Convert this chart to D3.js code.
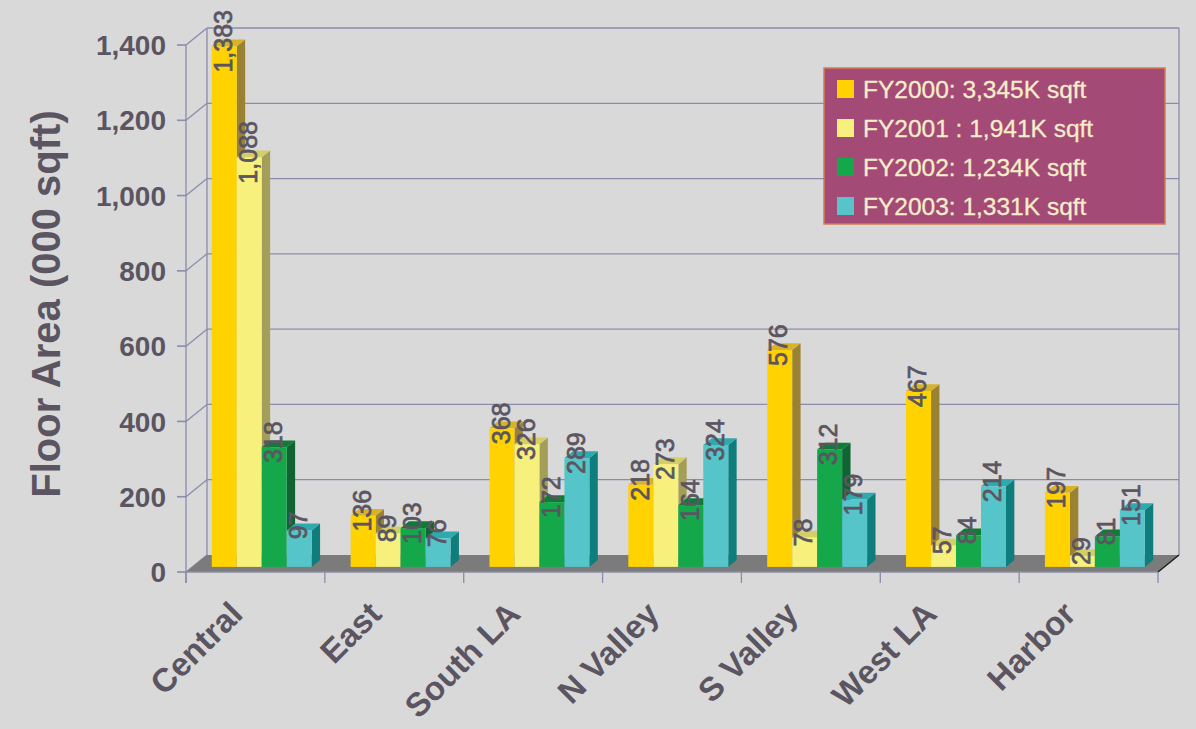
<!DOCTYPE html>
<html>
<head>
<meta charset="utf-8">
<script src="https://cdn.jsdelivr.net/npm/d3@7"></script>
<style>
  html, body { margin: 0; padding: 0; background: #d9d9d9; }
  svg { display: block; }
  text { font-family: "Liberation Sans", Arial, Helvetica, sans-serif; }
</style>
</head>
<body>
<svg id="chart" width="1196" height="729"></svg>
<script>
// Floor area by region, fiscal years 2000-2003 (thousand sq ft)
const categories = ["Central", "East", "South LA", "N Valley", "S Valley", "West LA", "Harbor"];
const seriesNames = ["FY2000", "FY2001", "FY2002", "FY2003"];
const legendLabels = ["FY2000: 3,345K sqft", "FY2001 : 1,941K sqft", "FY2002: 1,234K sqft", "FY2003: 1,331K sqft"];
const fy2000 = [1383, 136, 368, 218, 576, 467, 197];
const fy2001 = [1088, 89, 326, 273, 78, 57, 29];
const fy2002 = [318, 103, 172, 164, 312, 84, 81];
const fy2003 = [97, 76, 289, 324, 179, 214, 151];
const yTicks = [0, 200, 400, 600, 800, 1000, 1200, 1400];
const yTitle = "Floor Area (000 sqft)";

const seriesValues = [fy2000, fy2001, fy2002, fy2003];

// face colours per series: front, top, side
const palette = [
  { front: "#ffd200", top: "#d8b228", side: "#9b8232" },
  { front: "#f7f07c", top: "#d4ce68", side: "#a39e58" },
  { front: "#14a84a", top: "#0e7c37", side: "#0f6431" },
  { front: "#55c5ca", top: "#2ea9ad", side: "#107d7d" }
];

const svg = d3.select("#chart");
const W = 1196, H = 729;
svg.append("rect").attr("width", W).attr("height", H).attr("fill", "#d9d9d9");

// front plane geometry
const x0 = 186, x1 = 1158;
const y = d3.scaleLinear().domain([0, 1400]).range([572, 45]);
const DX = 21, DY = -17;           // depth vector of the plot box
const fFront = 0.3, fBack = 0.7;   // bar depth within the box

const xCat = d3.scaleBand().domain(categories).range([x0, x1]).padding(0);
const xSer = d3.scaleBand().domain(seriesNames).range([0, xCat.bandwidth()])
  .paddingInner(0).paddingOuter(0.78);

const gridColor = "#8b8bab";
const textColor = "#5b5561";

// back wall grid lines and side-wall connectors
const gGrid = svg.append("g");
yTicks.forEach(v => {
  const yy = y(v);
  if (v > 0) {
    gGrid.append("line")
      .attr("x1", x0 + DX).attr("y1", yy + DY)
      .attr("x2", x1 + DX).attr("y2", yy + DY)
      .attr("stroke", gridColor).attr("stroke-width", 1.3);
  }
  gGrid.append("line")
    .attr("x1", x0).attr("y1", yy)
    .attr("x2", x0 + DX).attr("y2", yy + DY)
    .attr("stroke", gridColor).attr("stroke-width", 1.3);
  // outer tick
  gGrid.append("line")
    .attr("x1", x0 - 9).attr("y1", yy)
    .attr("x2", x0).attr("y2", yy)
    .attr("stroke", gridColor).attr("stroke-width", 1.6);
});
// wall verticals
gGrid.append("line").attr("x1", x0 + DX).attr("x2", x0 + DX)
  .attr("y1", y(1400) + DY).attr("y2", y(0) + DY)
  .attr("stroke", gridColor).attr("stroke-width", 1.3);
gGrid.append("line").attr("x1", x1 + DX).attr("x2", x1 + DX)
  .attr("y1", y(1400) + DY).attr("y2", y(0) + DY)
  .attr("stroke", gridColor).attr("stroke-width", 1.3);
gGrid.append("line").attr("x1", x0).attr("x2", x0)
  .attr("y1", y(1400)).attr("y2", y(0) + 11)
  .attr("stroke", gridColor).attr("stroke-width", 1.3);

// floor
svg.append("polygon")
  .attr("points", [[x0, y(0)], [x1, y(0)], [x1 + DX, y(0) + DY], [x0 + DX, y(0) + DY]].map(p => p.join(",")).join(" "))
  .attr("fill", "#7b7b7b");
svg.append("line").attr("x1", x0).attr("x2", x1).attr("y1", y(0)).attr("y2", y(0))
  .attr("stroke", "#8d8da6").attr("stroke-width", 1.5);
svg.append("line").attr("x1", x1).attr("y1", y(0)).attr("x2", x1 + DX).attr("y2", y(0) + DY)
  .attr("stroke", "#1e1e1e").attr("stroke-width", 1.5);

// category ticks
const bounds = categories.map(c => xCat(c)).concat([x1]);
svg.append("g").selectAll("line").data(bounds).join("line")
  .attr("x1", d => d).attr("x2", d => d)
  .attr("y1", y(0)).attr("y2", y(0) + 11)
  .attr("stroke", gridColor).attr("stroke-width", 1.3);

// bars
const bars = [];
categories.forEach((c, ci) => {
  seriesNames.forEach((s, si) => {
    bars.push({ cat: c, ser: s, si, value: seriesValues[si][ci] });
  });
});

const ddx = DX * (fBack - fFront), ddy = DY * (fBack - fFront);
const gBars = svg.append("g");
bars.forEach(b => {
  const bx = xCat(b.cat) + xSer(b.ser) + DX * fFront;
  const bw = xSer.bandwidth();
  const base = y(0) + DY * fFront;
  const top = y(b.value) + DY * fFront;
  const col = palette[b.si];
  b.fx = bx; b.fw = bw; b.ftop = top;
  // side face
  gBars.append("polygon")
    .attr("points", [[bx + bw, top], [bx + bw + ddx, top + ddy], [bx + bw + ddx, base + ddy], [bx + bw, base]].map(p => p.join(",")).join(" "))
    .attr("fill", col.side);
  // top face
  gBars.append("polygon")
    .attr("points", [[bx, top], [bx + ddx, top + ddy], [bx + bw + ddx, top + ddy], [bx + bw, top]].map(p => p.join(",")).join(" "))
    .attr("fill", col.top);
  // front face
  gBars.append("rect")
    .attr("x", bx).attr("y", top).attr("width", bw).attr("height", base - top)
    .attr("fill", col.front);
});

// value labels, rotated
const fmt = d3.format(",");
svg.append("g").selectAll("text").data(bars).join("text")
  .attr("transform", d => `translate(${d.fx + d.fw / 2 - 1},${d.ftop - 5}) rotate(-90)`)
  .attr("text-anchor", "middle")
  .attr("dy", "0.35em")
  .attr("font-size", 25)
  .attr("fill", textColor)
  .attr("stroke", textColor).attr("stroke-width", 0.7)
  .text(d => fmt(d.value));

// y tick labels
svg.append("g").selectAll("text").data(yTicks).join("text")
  .attr("x", 166).attr("y", d => y(d))
  .attr("dy", "0.36em")
  .attr("text-anchor", "end")
  .attr("font-size", 28).attr("font-weight", "bold")
  .attr("fill", textColor)
  .text(d => fmt(d));

// y axis title
svg.append("text")
  .attr("transform", "translate(60,304) rotate(-90)")
  .attr("text-anchor", "middle")
  .attr("font-size", 40).attr("font-weight", "bold")
  .attr("fill", textColor)
  .text(yTitle);

// category labels
svg.append("g").selectAll("text").data(categories).join("text")
  .attr("transform", d => `translate(${xCat(d) + xCat.bandwidth() / 2 - 11},${616}) rotate(-45)`)
  .attr("text-anchor", "end")
  .attr("font-size", 33).attr("font-weight", "bold")
  .attr("fill", textColor)
  .text(d => d);

// legend
const lg = svg.append("g").attr("transform", "translate(824,68)");
lg.append("rect").attr("width", 341).attr("height", 156)
  .attr("fill", "#a34a77").attr("stroke", "#d27c52").attr("stroke-width", 1.5);
const rows = lg.selectAll("g").data(legendLabels).join("g")
  .attr("transform", (d, i) => `translate(0,${21 + i * 39})`);
rows.append("rect").attr("x", 13).attr("y", -9).attr("width", 17).attr("height", 18)
  .attr("fill", (d, i) => palette[i].front);
rows.append("text").attr("x", 39).attr("dy", "0.36em")
  .attr("font-size", 24.5).attr("fill", "#f6edc9")
  .attr("stroke", "#f6edc9").attr("stroke-width", 0.3)
  .text(d => d);
</script>
</body>
</html>
